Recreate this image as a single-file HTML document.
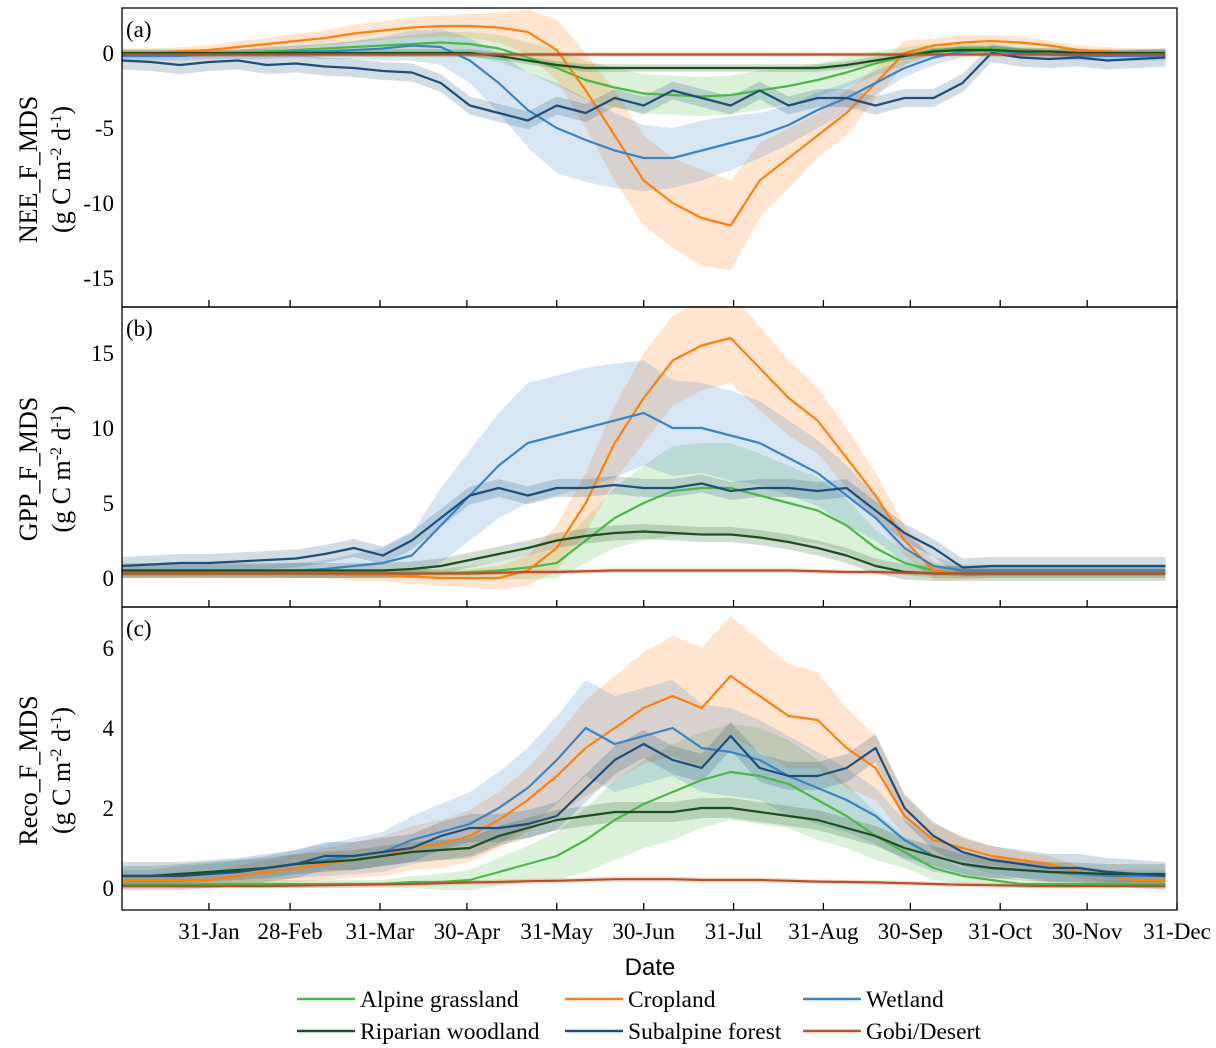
<!DOCTYPE html>
<html><head><meta charset="utf-8"><style>
html,body{margin:0;padding:0;background:#fff}
svg{display:block;font-family:"Liberation Serif",serif}
</style></head><body>
<svg id="chart" width="1216" height="1048" viewBox="0 0 1216 1048"></svg>
<script>
const days=[1,11,21,31,41,51,61,71,81,91,101,111,121,131,141,151,161,171,181,191,201,211,221,231,241,251,261,271,281,291,301,311,321,331,341,351,361];
const seriesNames=["Alpine grassland","Cropland","Wetland","Riparian woodland","Subalpine forest","Gobi/Desert"];
const xTickDays=[31,59,90,120,151,181,212,243,273,304,334,365];
const xTickLabels=["31-Jan","28-Feb","31-Mar","30-Apr","31-May","30-Jun","31-Jul","31-Aug","30-Sep","31-Oct","30-Nov","31-Dec"];
const neeTicks=[0,-5,-10,-15];
const gppTicks=[0,5,10,15];
const recoTicks=[0,2,4,6];
// NEE
const neeAlpine=[0,0,0,0,0,0.1,0.2,0.3,0.4,0.5,0.6,0.7,0.6,0.3,-0.3,-1,-1.8,-2.3,-2.7,-2.8,-2.9,-2.8,-2.5,-2.2,-1.8,-1.3,-0.7,-0.2,0.2,0.3,0.3,0.2,0.1,0,0,0,0];
const neeCrop=[0,0,0.1,0.2,0.4,0.6,0.8,1.0,1.3,1.5,1.7,1.8,1.8,1.7,1.4,0.2,-2.5,-5.5,-8.5,-10,-11,-11.5,-8.5,-7,-5.5,-4,-2,0,0.5,0.7,0.8,0.7,0.5,0.2,0.1,0,0];
const neeWet=[-0.2,-0.2,-0.2,-0.1,-0.1,0,0.1,0.1,0.2,0.3,0.5,0.4,-0.5,-2,-3.8,-5,-5.8,-6.5,-7,-7,-6.5,-6,-5.5,-4.8,-3.8,-3,-2,-1,-0.3,0.1,0.2,0,-0.1,-0.2,-0.2,-0.2,-0.2];
const neeRip=[0,0,0,0,0,0,0,0,0,0,0,0,0,-0.2,-0.5,-0.8,-1,-1,-1,-1,-1,-1,-1,-1,-1,-0.8,-0.5,-0.2,0.1,0.2,0.2,0.1,0.1,0,0,0,0];
const neeSub=[-0.5,-0.6,-0.8,-0.6,-0.5,-0.8,-0.7,-0.9,-1,-1.2,-1.3,-2,-3.5,-4,-4.5,-3.5,-4,-3,-3.5,-2.5,-3,-3.5,-2.5,-3.5,-3,-3,-3.5,-3,-3,-2,0,-0.3,-0.4,-0.3,-0.5,-0.4,-0.3];
const neeGobi=[-0.1,-0.1,-0.1,-0.1,-0.1,-0.1,-0.1,-0.1,-0.1,-0.1,-0.1,-0.1,-0.1,-0.1,-0.1,-0.1,-0.1,-0.1,-0.1,-0.1,-0.1,-0.1,-0.1,-0.1,-0.1,-0.1,-0.1,-0.1,-0.1,-0.1,-0.1,-0.1,-0.1,-0.1,-0.1,-0.1,-0.1];
const neeCropBand=[0.3,0.3,0.3,0.3,0.4,0.4,0.5,0.5,0.6,0.6,0.7,0.7,0.8,1,1.5,2,2.5,3,3,3,3.2,3,2.5,2,1.5,1.5,1,0.8,0.5,0.5,0.4,0.4,0.3,0.3,0.3,0.3,0.3];
const neeWetBand=[0.3,0.3,0.3,0.3,0.3,0.4,0.4,0.5,0.6,0.8,1,1.2,1.5,2,2.5,3,2.8,2.5,2.2,2,2,1.8,1.5,1.3,1.2,1,0.8,0.6,0.5,0.4,0.3,0.3,0.3,0.3,0.3,0.3,0.3];
const neeAlpBand=[0.2,0.2,0.2,0.2,0.2,0.3,0.3,0.3,0.4,0.5,0.6,0.7,0.8,0.9,1,1.2,1.3,1.3,1.3,1.3,1.3,1.3,1.3,1.2,1.1,1,0.8,0.6,0.4,0.3,0.3,0.2,0.2,0.2,0.2,0.2,0.2];
// GPP
const gppAlpine=[0.3,0.3,0.3,0.3,0.3,0.3,0.3,0.3,0.3,0.3,0.3,0.3,0.4,0.5,0.7,1,2.5,4,5,5.8,6,6,5.5,5,4.5,3.5,2,1,0.5,0.3,0.3,0.3,0.3,0.3,0.3,0.3,0.3];
const gppCrop=[0.3,0.3,0.3,0.3,0.3,0.3,0.3,0.3,0.2,0.2,0.1,0,0,0,0.5,2,5,9,12,14.5,15.5,16,14,12,10.5,8,5.5,2.5,0.5,0.3,0.3,0.3,0.3,0.3,0.3,0.3,0.3];
const gppWet=[0.5,0.5,0.5,0.5,0.5,0.5,0.5,0.6,0.8,1,1.5,3.5,5.5,7.5,9,9.5,10,10.5,11,10,10,9.5,9,8,7,5.5,4,2,0.8,0.5,0.5,0.5,0.5,0.5,0.5,0.5,0.5];
const gppRip=[0.5,0.5,0.5,0.5,0.5,0.5,0.5,0.5,0.5,0.5,0.6,0.8,1.2,1.6,2,2.5,2.8,3,3.1,3,2.9,2.9,2.7,2.4,2,1.5,0.8,0.4,0.3,0.3,0.3,0.3,0.3,0.3,0.3,0.3,0.3];
const gppSub=[0.8,0.9,1,1,1.1,1.2,1.3,1.6,2,1.5,2.5,4,5.5,6,5.5,6,6,6.2,6,6,6.3,5.8,6,6,5.8,6,4.5,3,2,0.7,0.8,0.8,0.8,0.8,0.8,0.8,0.8];
const gppGobi=[0.3,0.3,0.3,0.3,0.3,0.3,0.3,0.3,0.3,0.3,0.3,0.3,0.3,0.35,0.4,0.4,0.45,0.5,0.5,0.5,0.5,0.5,0.5,0.5,0.45,0.4,0.4,0.35,0.3,0.3,0.3,0.3,0.3,0.3,0.3,0.3,0.3];
const gppCropBand=[0.3,0.3,0.3,0.3,0.3,0.3,0.3,0.3,0.4,0.4,0.5,0.5,0.6,0.8,1,1.5,2,2.5,3,3,3,3,2.8,2.5,2.2,2,1.5,1,0.6,0.4,0.3,0.3,0.3,0.3,0.3,0.3,0.3];
const gppWetBand=[0.4,0.4,0.4,0.4,0.4,0.4,0.5,0.6,0.8,1,1.5,2.5,3,3.5,4,4,4,3.8,3.5,3.2,3,3,2.8,2.5,2.2,2,1.5,1,0.6,0.4,0.4,0.4,0.4,0.4,0.4,0.4,0.4];
const gppAlpBand=[0.3,0.3,0.3,0.3,0.3,0.3,0.3,0.3,0.3,0.3,0.3,0.3,0.4,0.6,0.8,1,1.5,2,2.5,3,3,3,2.8,2.5,2.2,1.8,1.2,0.8,0.5,0.3,0.3,0.3,0.3,0.3,0.3,0.3,0.3];
// Reco
const recoAlpine=[0.1,0.1,0.1,0.1,0.1,0.1,0.1,0.1,0.1,0.1,0.15,0.15,0.2,0.4,0.6,0.8,1.2,1.7,2.1,2.4,2.7,2.9,2.8,2.6,2.2,1.8,1.3,0.9,0.5,0.3,0.2,0.1,0.1,0.1,0.1,0.1,0.1];
const recoCrop=[0.2,0.2,0.2,0.2,0.3,0.4,0.5,0.6,0.7,0.8,1,1.1,1.3,1.7,2.2,2.8,3.5,4,4.5,4.8,4.5,5.3,4.8,4.3,4.2,3.5,3,1.8,1.2,1,0.8,0.7,0.6,0.4,0.3,0.2,0.2];
const recoWet=[0.3,0.3,0.35,0.4,0.45,0.5,0.6,0.7,0.8,0.9,1.2,1.4,1.6,2,2.5,3.2,4,3.6,3.8,4,3.5,3.4,3.2,2.8,2.5,2.2,1.8,1.2,0.8,0.6,0.5,0.45,0.4,0.35,0.3,0.3,0.3];
const recoRip=[0.3,0.3,0.35,0.4,0.45,0.5,0.6,0.65,0.7,0.8,0.9,0.95,1,1.3,1.5,1.7,1.8,1.9,1.9,1.9,2,2,1.9,1.8,1.7,1.5,1.3,1,0.8,0.6,0.5,0.45,0.4,0.38,0.35,0.35,0.35];
const recoSub=[0.3,0.3,0.3,0.35,0.4,0.5,0.6,0.8,0.8,0.9,1,1.3,1.5,1.5,1.6,1.8,2.5,3.2,3.6,3.2,3,3.8,3,2.8,2.8,3,3.5,2,1.3,0.9,0.7,0.6,0.5,0.5,0.4,0.35,0.3];
const recoGobi=[0.05,0.05,0.05,0.05,0.05,0.05,0.06,0.07,0.08,0.09,0.1,0.12,0.14,0.15,0.17,0.18,0.2,0.22,0.22,0.22,0.2,0.2,0.2,0.18,0.16,0.15,0.14,0.12,0.1,0.08,0.07,0.06,0.05,0.05,0.05,0.05,0.05];
const recoCropBand=[0.15,0.15,0.2,0.2,0.25,0.3,0.35,0.4,0.45,0.5,0.55,0.6,0.65,0.7,0.8,1,1.2,1.3,1.4,1.5,1.5,1.5,1.4,1.3,1.2,1,0.8,0.5,0.4,0.3,0.25,0.2,0.2,0.15,0.15,0.15,0.15];
const recoWetBand=[0.15,0.15,0.2,0.2,0.25,0.3,0.35,0.4,0.45,0.5,0.6,0.7,0.8,0.9,1,1.1,1.2,1.2,1.2,1.2,1.1,1.1,1,1,0.9,0.8,0.7,0.5,0.4,0.3,0.25,0.2,0.2,0.15,0.15,0.15,0.15];
const recoAlpBand=[0.1,0.1,0.1,0.1,0.1,0.1,0.1,0.1,0.1,0.1,0.15,0.2,0.25,0.35,0.45,0.6,0.8,1,1.1,1.2,1.2,1.2,1.2,1.1,1,0.8,0.6,0.4,0.3,0.2,0.15,0.1,0.1,0.1,0.1,0.1,0.1];

const colors=["#4cb847","#ff7f0e","#3a84c6","#1c4f1f","#1f4e7a","#b8502a"];
const NS="http://www.w3.org/2000/svg";
const svg=document.getElementById("chart");
const L=122,R=1177;
function xs(d){return L+(d-1)*(R-L)/364;}
function mk(tag,attrs,parent){const e=document.createElementNS(NS,tag);for(const k in attrs)e.setAttribute(k,attrs[k]);(parent||svg).appendChild(e);return e;}

const panels=[
 {id:"nee",top:8,bot:307,y0:53,ppu:15,ticks:neeTicks,label:"(a)",title:"NEE_F_MDS",
  series:[neeAlpine,neeCrop,neeWet,neeRip,neeSub,neeGobi],bands:[neeAlpBand,neeCropBand,neeWetBand,null,null,null],def:[0.3,0.5,0.5,0.25,0.6,0.15]},
 {id:"gpp",top:307,bot:607,y0:578,ppu:15,ticks:gppTicks,label:"(b)",title:"GPP_F_MDS",
  series:[gppAlpine,gppCrop,gppWet,gppRip,gppSub,gppGobi],bands:[gppAlpBand,gppCropBand,gppWetBand,null,null,null],def:[0.3,0.5,0.5,0.5,0.6,0.15]},
 {id:"reco",top:607,bot:910,y0:888,ppu:40,ticks:recoTicks,label:"(c)",title:"Reco_F_MDS",
  series:[recoAlpine,recoCrop,recoWet,recoRip,recoSub,recoGobi],bands:[recoAlpBand,recoCropBand,recoWetBand,null,null,null],def:[0.2,0.3,0.3,0.25,0.35,0.06]}
];

const clip=mk("defs",{});
panels.forEach(p=>{
  const cp=mk("clipPath",{id:"clip-"+p.id},clip);
  mk("rect",{x:L,y:p.top,width:R-L,height:p.bot-p.top},cp);
  const g=mk("g",{"clip-path":"url(#clip-"+p.id+")"});
  
  
  const ys=v=>p.y0-v*p.ppu;
  p.series.forEach((s,i)=>{
    const b=p.bands[i];
    let up=s.map((v,j)=>xs(days[j])+","+ys(v+(b?b[j]:p.def[i])));
    let dn=s.map((v,j)=>xs(days[j])+","+ys(v-(b?b[j]:p.def[i]))).reverse();
    const poly=mk("polygon",{points:up.concat(dn).join(" "),fill:colors[i],"fill-opacity":0.2,stroke:"none"},g);
    
    
  });
  p.series.forEach((s,i)=>{
    const pl=mk("polyline",{points:s.map((v,j)=>xs(days[j])+","+ys(v)).join(" "),fill:"none",stroke:colors[i],"stroke-width":2.2,"stroke-linejoin":"round"},g);
    
    
  });
  const fr=mk("rect",{x:L,y:p.top,width:R-L,height:p.bot-p.top,fill:"none",stroke:"#000","stroke-width":1.3});
  
  
  xTickDays.forEach(d=>{
    const t=mk("line",{x1:xs(d),x2:xs(d),y1:p.bot,y2:p.bot-7,stroke:"#000","stroke-width":1.3});
    
    
  });
  p.ticks.forEach(v=>{
    const t=mk("text",{x:L-8,y:ys(v)+8,"text-anchor":"end","font-size":23});
    t.textContent=String(v);
    
    
  });
  const lab=mk("text",{x:126,y:p.top+29,"font-size":23});
  lab.textContent=p.label;
  
  
  const cy=(p.top+p.bot)/2+12;
  const t1=mk("text",{transform:"translate(37,"+cy+") rotate(-90)","text-anchor":"middle","font-size":26});
  t1.textContent=p.title;
  
  
  const t2=mk("text",{transform:"translate(70,"+cy+") rotate(-90)","text-anchor":"middle","font-size":26});
  t2.innerHTML='(g C m<tspan dy="-9" font-size="16">-2</tspan><tspan dy="9"> d</tspan><tspan dy="-9" font-size="16">-1</tspan><tspan dy="9">)</tspan>';
  
  
});
xTickDays.forEach((d,i)=>{
  const t=mk("text",{x:xs(d),y:939,"text-anchor":"middle","font-size":23});
  t.textContent=xTickLabels[i];
  
  
});
const xt=mk("text",{x:650,y:975,"text-anchor":"middle","font-size":24,"font-family":"Liberation Sans, sans-serif"});
xt.textContent="Date";


const legX=[297,565,803],legY=[999,1031];
seriesNames.forEach((n,i)=>{
  const lx=legX[i%3],ly=legY[Math.floor(i/3)];
  const g=mk("g",{});
  
  
  mk("line",{x1:lx,x2:lx+58,y1:ly,y2:ly,stroke:colors[i],"stroke-width":2.5},g);
  const t=mk("text",{x:lx+63,y:ly+8,"font-size":23.5},g);
  t.textContent=n;
});
</script>
</body></html>
